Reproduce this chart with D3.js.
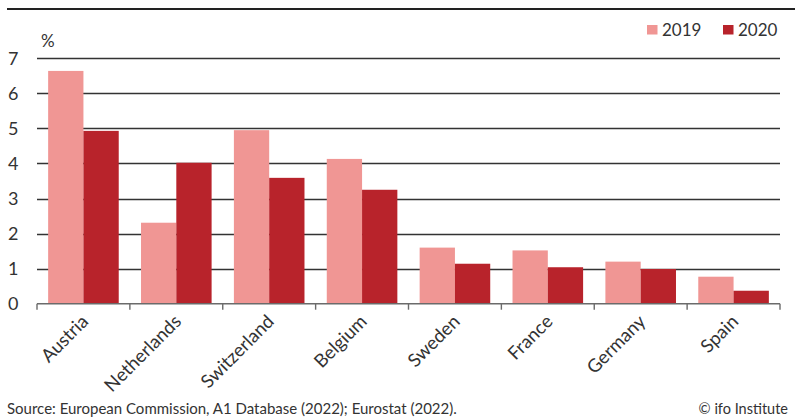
<!DOCTYPE html>
<html><head><meta charset="utf-8">
<script src="https://cdn.jsdelivr.net/npm/d3@7"></script>
<style>
html,body{margin:0;padding:0;background:#fff;}
svg text{font-family:"Source Sans Pro",Lato,"Noto Sans",sans-serif;fill:#333;}
</style></head>
<body><svg id="c" width="795" height="418"></svg>
<script>
const categories = ["Austria","Netherlands","Switzerland","Belgium","Sweden","France","Germany","Spain"];
const series = ["2019","2020"];
const values2019 = [6.64, 2.31, 4.95, 4.13, 1.60, 1.52, 1.20, 0.77];
const values2020 = [4.93, 4.02, 3.59, 3.25, 1.14, 1.04, 0.99, 0.37];
const yTicks = [0,1,2,3,4,5,6,7];
const colors = ["#f09694","#b8232b"];
const unitLabel = "%";
const sourceText = "Source: European Commission, A1 Database (2022); Eurostat (2022).";
const creditText = "\u00a9 ifo Institute";

(function(){
const svg = d3.select("#c");
const pL = 37, pR = 780, pT = 58.3, pB = 303.7;
const x = d3.scaleBand().domain(categories).range([pL,pR]).paddingInner(0.24).paddingOuter(0.12);
const xs = d3.scaleBand().domain(series).range([0, x.bandwidth()]);
const y = d3.scaleLinear().domain([0,7]).range([pB, pT]);

// top rule
svg.append("line").attr("x1",7).attr("x2",795).attr("y1",9).attr("y2",9)
  .attr("stroke","#222").attr("stroke-width",2.2);

// gridlines
svg.append("g").selectAll("line").data(yTicks.filter(d=>d>0)).join("line")
  .attr("x1",pL).attr("x2",pR).attr("y1",d=>Math.round(y(d))+0.5).attr("y2",d=>Math.round(y(d))+0.5)
  .attr("stroke","#333").attr("stroke-width",1.3);

// y tick labels
svg.append("g").selectAll("text").data(yTicks).join("text")
  .attr("x",18.5).attr("y",d=>y(d)).attr("dy","0.36em").attr("text-anchor","end")
  .attr("font-size",18).text(d=>d);

svg.append("text").attr("x",41).attr("y",47).attr("font-size",17).text(unitLabel);

// bars
const data = categories.map((c,i)=>({c, v:[values2019[i], values2020[i]]}));
const g = svg.append("g").selectAll("g").data(data).join("g")
  .attr("transform",d=>`translate(${x(d.c)},0)`);
g.selectAll("rect").data(d=>d.v.map((v,j)=>({s:series[j],v,j}))).join("rect")
  .attr("x",d=>xs(d.s)).attr("width",xs.bandwidth())
  .attr("y",d=>y(d.v)).attr("height",d=>y(0)-y(d.v))
  .attr("fill",d=>colors[d.j]);

// x axis
const xAxis = svg.append("g").attr("transform",`translate(0,${pB})`);
xAxis.append("line").attr("x1",pL).attr("x2",pR).attr("y1",0).attr("y2",0)
  .attr("stroke","#6b6b6b").attr("stroke-width",1.6);
const step = x.step();
const tickPos = d3.range(categories.length+1).map(i=>pL + i*step);
xAxis.selectAll(".tk").data(tickPos).join("line").attr("class","tk")
  .attr("x1",d=>d).attr("x2",d=>d).attr("y1",0).attr("y2",6)
  .attr("stroke","#6b6b6b").attr("stroke-width",1.4);
xAxis.selectAll(".lb").data(categories).join("text").attr("class","lb")
  .attr("transform",d=>`translate(${x(d)+x.bandwidth()/2+6},${19}) rotate(-45)`)
  .attr("text-anchor","end").attr("font-size",18.5).text(d=>d);

// legend
const legend = svg.append("g");
const lx = [647, 723];
series.forEach((s,i)=>{
  legend.append("rect").attr("x",lx[i]).attr("y",25).attr("width",10.5).attr("height",9.5).attr("fill",colors[i]);
  legend.append("text").attr("x",lx[i]+15).attr("y",35.5).attr("font-size",17).text(s);
});

// footer
svg.append("text").attr("x",7).attr("y",414).attr("font-size",15).text(sourceText);
svg.append("text").attr("x",788).attr("y",414).attr("text-anchor","end").attr("font-size",14.5).text(creditText);
})();
</script></body></html>
